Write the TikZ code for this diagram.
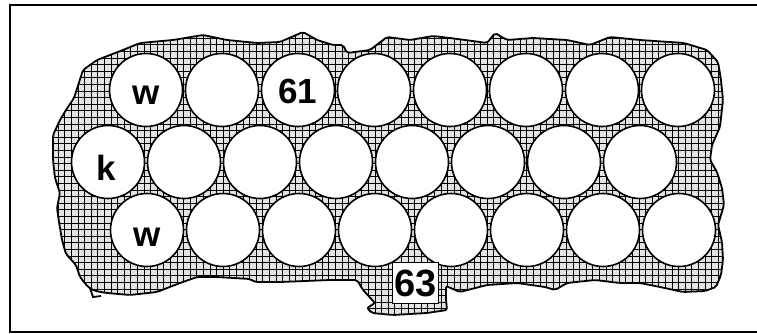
\documentclass[tikz,border=0pt]{standalone}
\usepackage{fontspec}
\setmainfont{Liberation Sans}
\newcommand\blobpath{(95,291) -- (88,287) -- (80,277) -- (76,265) -- (66,254) -- (62,240) -- (59,222) -- (57,208) -- (60,193) -- (55,178) -- (53,160) -- (53,135) -- (60,120) -- (66,110) -- (74,98) -- (83,70) -- (97,60) -- (123,50) -- (140,43) -- (173,40) -- (203,35) -- (227,40) -- (257,43) -- (280,42) -- (303,32) -- (317,40) -- (333,45) -- (343,45) -- (347,53) -- (370,50) -- (387,37) -- (410,40) -- (433,36) -- (450,38) -- (480,42) -- (487,43) -- (495,33) -- (507,40) -- (533,38) -- (567,40) -- (590,45) -- (610,37) -- (640,40) -- (684,43) -- (707,50) -- (718,62) -- (721,80) -- (723,100) -- (720,127) -- (712,145) -- (710,160) -- (717,172) -- (722,188) -- (724,205) -- (718,225) -- (722,242) -- (723,260) -- (721,275) -- (716,287) -- (705,291) -- (683,292) -- (660,287) -- (640,283) -- (620,283) -- (595,280) -- (567,283) -- (555,290) -- (545,287) -- (517,283) -- (487,285) -- (460,292) -- (446,286) -- (446,300) -- (447,310) -- (427,313) -- (393,315) -- (372,313) -- (367,308) -- (375,303) -- (363,290) -- (357,280) -- (330,280) -- (280,282) -- (255,282) -- (250,279) -- (217,277) -- (197,277) -- (180,283) -- (157,292) -- (130,295) -- (107,293) -- cycle}
\begin{document}
\begin{tikzpicture}[x=1pt,y=-1pt,
  hole/.style={circle,draw,line width=1.6pt,fill=white,minimum size=73pt,inner sep=0pt},
  lbl/.style={font=\fontsize{35}{35}\selectfont\bfseries,anchor=base,inner sep=0pt},
  gridline/.style={line width=0.75pt},
  frameline/.style={line width=1.5pt}]
\useasboundingbox (0,0) rectangle (757,334);
\fill[white] (0,0) rectangle (757,334);
% frame
\draw[frameline] (757,5) -- (10,5) -- (10,332) -- (757,332);
% gasket body
\begin{scope}[rounded corners=2pt]
\fill[gray!22] \blobpath;
\begin{scope}
\clip \blobpath;
\foreach \i in {0,...,106} \draw[gridline] (45+\i*6.6,20) -- (45+\i*6.6,330);
\foreach \j in {0,...,46} \draw[gridline] (40,25+\j*6.6) -- (740,25+\j*6.6);
\end{scope}
\draw[line width=1.8pt] \blobpath;
\end{scope}
\draw[line width=1.8pt] (90,288) -- (93,297) -- (101,296);
% holes
\foreach \i in {1,...,8} {
  \node[hole] (t\i) at (70+76*\i,90) {};
  \node[hole] (m\i) at (32+76*\i,162) {};
  \node[hole] (b\i) at (71+76*\i,230) {};
}
\node[lbl] (lw1) at (146,105) {w};
\node[lbl] (l61) at (298,103) {61};
\node[lbl] (lk) at (106,180) {k};
\node[lbl] (lw2) at (147,246) {w};
% box 63
\node[draw,line width=1pt,fill=white,minimum width=46pt,minimum height=41pt,inner sep=0pt,
  font=\fontsize{38}{38}\selectfont\bfseries] (n63) at (415.5,283) {63};
\end{tikzpicture}
\end{document}
